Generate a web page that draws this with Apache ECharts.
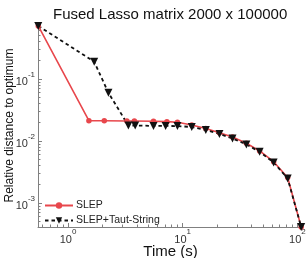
<!DOCTYPE html>
<html><head><meta charset="utf-8">
<script src="https://cdn.jsdelivr.net/npm/echarts@6/dist/echarts.min.js"></script>
<style>html,body{margin:0;padding:0;background:#fff}#c{width:307px;height:258px}</style>
</head><body><div id="c"></div>
<script>
// SLEP (red, circles)
const slepTime = [0.55, 1.52, 2.07, 3.26, 3.79, 5.56, 7.28, 9.0, 12.0, 15.9, 20.9, 27.2, 35.9, 46.9, 62.1, 82.3, 108];
const slepDist = [0.716, 0.0212, 0.0212, 0.0210, 0.0210, 0.0208, 0.0205, 0.0200, 0.0181, 0.0159, 0.0136, 0.0116, 0.00918, 0.0069, 0.00464, 0.00258, 0.00041];
// SLEP+Taut-String (black dashed, triangles)
const tautTime = [0.55, 1.69, 2.25, 3.36, 3.85, 5.56, 7.1, 9.0, 12.0, 15.9, 20.9, 27.2, 35.9, 46.9, 62.1, 82.3, 108];
const tautDist = [0.716, 0.190, 0.060, 0.0177, 0.0178, 0.0175, 0.0175, 0.0174, 0.0168, 0.0150, 0.0130, 0.0110, 0.0088, 0.0067, 0.0045, 0.00249, 0.00041];
const seriesNames = ['SLEP', 'SLEP+Taut-String'];
const xMajorTicks = [1, 10, 100];
const xMinorTicks = [0.6, 0.7, 0.8, 0.9, 2, 3, 4, 5, 6, 7, 8, 9, 20, 30, 40, 50, 60, 70, 80, 90];
const yMajorTicks = [0.001, 0.01, 0.1];
const yMinorTicks = [0.0005, 0.0006, 0.0007, 0.0008, 0.0009, 0.002, 0.003, 0.004, 0.005, 0.006, 0.007, 0.008, 0.009, 0.02, 0.03, 0.04, 0.05, 0.06, 0.07, 0.08, 0.09, 0.2, 0.3, 0.4, 0.5, 0.6, 0.7];

const FONT = 'Liberation Sans, Arial, sans-serif';
const XMIN = 0.547, XMAX = 112, YMIN = 0.00041, YMAX = 0.77;
const axisColor = '#808080';
const supFmt = v => '{b|10}{s|' + Math.round(Math.log10(v)) + '}';
const rich = {
  b: {fontSize: 11, fontFamily: FONT, color: '#333', padding: [6, 0, 0, 0]},
  s: {fontSize: 8, fontFamily: FONT, color: '#333', verticalAlign: 'top', lineHeight: 9}
};
const zip = (a, b) => a.map((v, i) => [v, b[i]]);
const gridBox = {left: 38, right: 4, top: 24, bottom: 31, containLabel: false, outerBoundsMode: 'none'};

const chart = echarts.init(document.getElementById('c'), null, {renderer: 'canvas'});
chart.setOption({
  animation: false,
  backgroundColor: '#fff',
  title: {
    text: 'Fused Lasso matrix 2000 x 100000',
    left: 48, top: 2,
    textStyle: {fontFamily: FONT, fontSize: 15, fontWeight: 'normal', color: '#111'}
  },
  grid: [Object.assign({}, gridBox), Object.assign({}, gridBox)],
  legend: {
    data: seriesNames,
    orient: 'vertical', left: 39, top: 195, itemWidth: 28, itemHeight: 8, itemGap: 4,
    textStyle: {fontFamily: FONT, fontSize: 10.5, color: '#222', padding: [0, 0, 0, -2]}
  },
  xAxis: [{
    type: 'log', min: XMIN, max: XMAX, logBase: 10, gridIndex: 0,
    name: 'Time (s)', nameLocation: 'middle', nameGap: 17, nameMoveOverlap: false,
    nameTextStyle: {fontFamily: FONT, fontSize: 15, color: '#111'},
    axisLine: {show: true, lineStyle: {color: axisColor, width: 1}},
    axisTick: {show: true, inside: true, length: 4, customValues: xMajorTicks, lineStyle: {color: axisColor, width: 1}},
    axisLabel: {customValues: xMajorTicks, formatter: supFmt, rich: rich, margin: 1},
    splitLine: {show: false}, minorTick: {show: false}
  }, {
    type: 'log', min: XMIN, max: XMAX, logBase: 10, position: 'bottom', gridIndex: 1,
    axisLine: {show: false},
    axisTick: {show: true, inside: true, length: 2.5, customValues: xMinorTicks, lineStyle: {color: axisColor, width: 1}},
    axisLabel: {show: false}, splitLine: {show: false}
  }],
  yAxis: [{
    type: 'log', min: YMIN, max: YMAX, logBase: 10, gridIndex: 0,
    name: 'Relative distance to optimum', nameLocation: 'middle', nameGap: 22, nameMoveOverlap: false,
    nameTextStyle: {fontFamily: FONT, fontSize: 12, color: '#111'},
    axisLine: {show: true, lineStyle: {color: axisColor, width: 1}},
    axisTick: {show: true, inside: true, length: 4, customValues: yMajorTicks, lineStyle: {color: axisColor, width: 1}},
    axisLabel: {customValues: yMajorTicks, formatter: supFmt, rich: rich, margin: 3},
    splitLine: {show: false}
  }, {
    type: 'log', min: YMIN, max: YMAX, logBase: 10, position: 'left', gridIndex: 1,
    axisLine: {show: false},
    axisTick: {show: true, inside: true, length: 2.5, customValues: yMinorTicks, lineStyle: {color: axisColor, width: 1}},
    axisLabel: {show: false}, splitLine: {show: false}
  }],
  series: [{
    name: seriesNames[0], type: 'line', data: zip(slepTime, slepDist),
    symbol: 'circle', symbolSize: 5.5, color: '#e8474c',
    lineStyle: {width: 1.6, color: '#e8474c'}, itemStyle: {color: '#e8474c'}
  }, {
    name: seriesNames[1], type: 'line', data: zip(tautTime, tautDist),
    symbol: 'triangle', symbolRotate: 180, symbolSize: 8, color: '#111',
    lineStyle: {width: 1.8, type: [3.5, 3], color: '#111'}, itemStyle: {color: '#111'}
  }]
});
</script></body></html>
